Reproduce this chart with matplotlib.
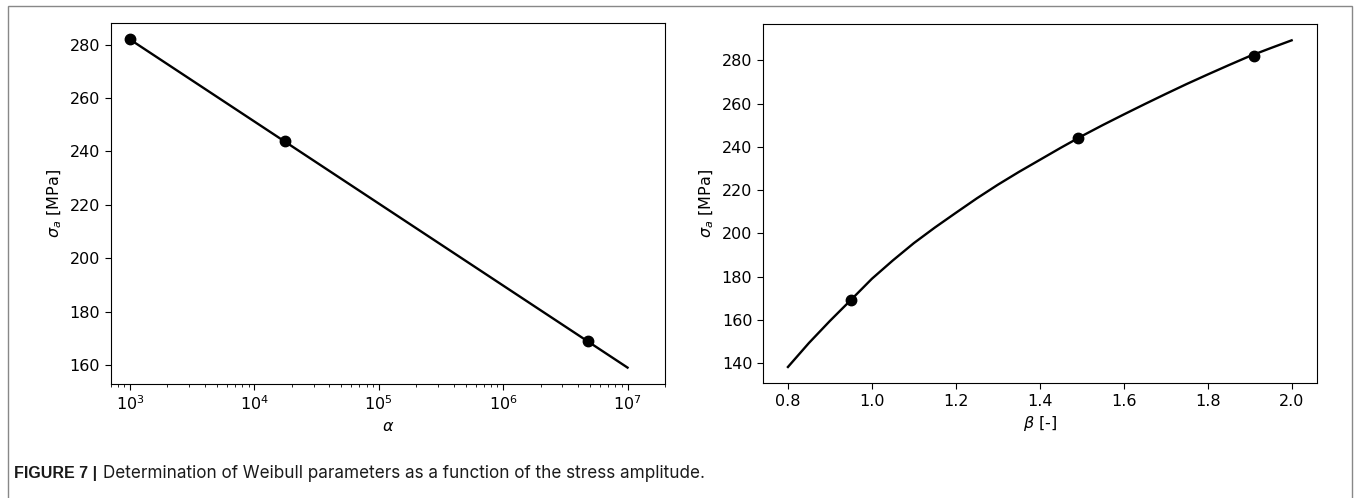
import matplotlib
matplotlib.use('Agg')
import matplotlib.pyplot as plt
from matplotlib.patches import Rectangle

# Weibull scale parameter alpha vs stress amplitude
alpha_pts = [1.0e3, 1.77e4, 4.83e6]
sigma_alpha_pts = [282, 244, 169]
alpha_line = [1.0e3, 1.0e7]
sigma_alpha_line = [282, 159]

# Weibull shape parameter beta vs stress amplitude
beta_pts = [0.95, 1.49, 1.91]
sigma_beta_pts = [169, 244, 282]
beta_curve = [0.80, 0.85, 0.90, 0.95, 1.00, 1.05, 1.10, 1.15, 1.20, 1.25, 1.30,
              1.35, 1.40, 1.45, 1.50, 1.55, 1.60, 1.65, 1.70, 1.75, 1.80, 1.85,
              1.90, 1.95, 2.00]
sigma_beta_curve = [138.2, 149.3, 159.5, 169.2, 179.0, 187.5, 195.5, 202.7,
                    209.5, 216.2, 222.5, 228.4, 234.0, 239.6, 245.0, 250.1,
                    255.0, 259.8, 264.5, 269.1, 273.5, 277.8, 282.0, 285.7,
                    289.3]

caption_bold = 'FIGURE 7 |'
caption_text = 'Determination of Weibull parameters as a function of the stress amplitude.'

plt.rcParams['font.size'] = 11.5
plt.rcParams['xtick.major.size'] = 4
plt.rcParams['ytick.major.size'] = 4

fig = plt.figure(figsize=(13.56, 4.98), dpi=100)
ax1 = fig.add_axes([0.0816, 0.2289, 0.4088, 0.7249])
ax2 = fig.add_axes([0.5625, 0.2303, 0.4086, 0.7215])

ax1.plot(alpha_line, sigma_alpha_line, color='black', linewidth=1.7)
ax1.plot(alpha_pts, sigma_alpha_pts, 'o', color='black', markersize=7.5)
ax1.set_xscale('log')
ax1.set_xlim(7e2, 2e7)
ax1.set_xlabel(r'$\alpha$')
ax1.set_ylabel(r'$\sigma_a$ [MPa]')

ax2.plot(beta_curve, sigma_beta_curve, color='black', linewidth=1.7)
ax2.plot(beta_pts, sigma_beta_pts, 'o', color='black', markersize=7.5)
ax2.set_xlabel(r'$\beta$ [-]')
ax2.set_ylabel(r'$\sigma_a$ [MPa]')

# outer frame and caption
fig.patches.append(Rectangle((8 / 1356, -0.05), 1344 / 1356, 1.05 - 6 / 498,
                             transform=fig.transFigure, fill=False,
                             edgecolor='#888888', linewidth=1.0))
fig.text(14 / 1356, 0.04, caption_bold, fontsize=11.5, fontweight='bold',
         family='Liberation Sans', color='#1a1a1a')
fig.text(103 / 1356, 0.04, caption_text, fontsize=12.3,
         family='Inter', color='#1a1a1a')

fig.savefig('out.png', dpi=100)
